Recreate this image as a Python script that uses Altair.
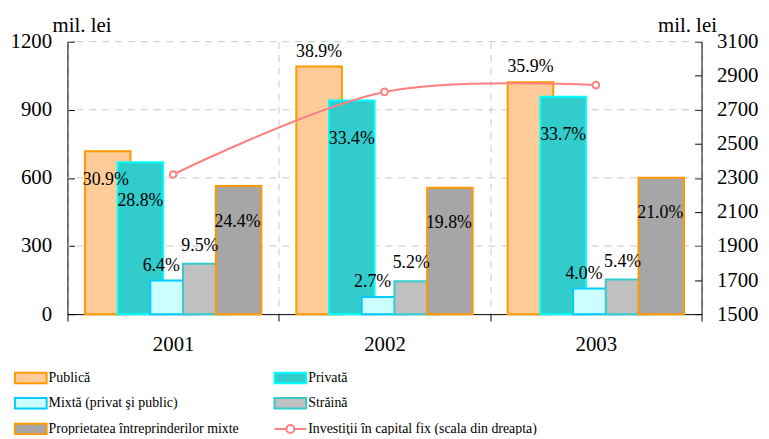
import altair as alt
import pandas as pd

years = ["2001", "2002", "2003"]
series_names = ["Publică", "Privată", "Mixtă (privat şi public)", "Străină",
                "Proprietatea întreprinderilor mixte"]
line_name = "Investiţii în capital fix (scala din dreapta)"

publica = [717, 1091, 1021]
privata = [669, 941, 957]
mixta = [148, 75, 113]
straina = [222, 145, 153]
proprietatea = [564, 557, 601]

publica_pct = ["30.9%", "38.9%", "35.9%"]
privata_pct = ["28.8%", "33.4%", "33.7%"]
mixta_pct = ["6.4%", "2.7%", "4.0%"]
straina_pct = ["9.5%", "5.2%", "5.4%"]
proprietatea_pct = ["24.4%", "19.8%", "21.0%"]

investitii = [2320, 2805, 2845]

left_ticks = [0, 300, 600, 900, 1200]
right_ticks = [1500, 1700, 1900, 2100, 2300, 2500, 2700, 2900, 3100]

# styles
fills = ["#FFCC99", "#33CCCC", "#CCFFFF", "#C0C0C0", "#A6A6A6", "#FFFFFF"]
strokes = ["#FF9900", "#00FFFF", "#00CCFF", "#33CCCC", "#FF9900", "#FF8080"]
rect_path = "M-2,-0.66L2,-0.66L2,0.66L-2,0.66Z"
line_path = ("M-2,0L-0.5,0M0.5,0L2,0"
             "M-0.5,0A0.5,0.5 0 1,0 0.5,0A0.5,0.5 0 1,0 -0.5,0Z")
shapes = [rect_path] * 5 + [line_path]
FONT = "Liberation Serif"
GRID = "#C8C8C8"
DASH = [7, 6]
TICK_DASH = [7, 3000]  # grid drawn as short inward tick from the axis

all_names = series_names + [line_name]

values = [publica, privata, mixta, straina, proprietatea]
pcts = [publica_pct, privata_pct, mixta_pct, straina_pct, proprietatea_pct]
rows = []
for s, vals, pc in zip(series_names, values, pcts):
    for y, v, p in zip(years, vals, pc):
        rows.append({"year": y, "series": s, "value": v, "pct": p})
bars_df = pd.DataFrame(rows)
line_df = pd.DataFrame({"year": years, "invest": investitii,
                        "series": [line_name] * len(years)})
grid_df = pd.DataFrame({"value": left_ticks[1:]})

common_axis = dict(labelFont=FONT, titleFont=FONT, labelColor="black",
                   titleColor="black", domainColor="black", labelFontSize=21,
                   titleFontSize=21, titleFontWeight=400)

xscale = alt.Scale(domain=years, paddingInner=0, paddingOuter=0)
xaxis = alt.Axis(title=None, tickBand="extent", ticks=True, tickSize=7,
                 tickColor="black", grid=True, gridDash=DASH,
                 gridColor=GRID, labelPadding=13, labelAngle=0,
                 **common_axis)
offscale = alt.Scale(domain=series_names, paddingInner=0, paddingOuter=0.732)
lscale = alt.Scale(domain=[0, 1200], nice=False, zero=True)
laxis = alt.Axis(orient="left", values=left_ticks, format="d", grid=True,
                 gridDash=TICK_DASH, gridColor="black", ticks=False,
                 labelPadding=16, title="mil. lei", titleAngle=0,
                 titleAlign="right", titleBaseline="alphabetic",
                 titleX=44, titleY=-10, **common_axis)
rscale = alt.Scale(domain=[1500, 3100], nice=False, zero=False)
raxis = alt.Axis(orient="right", values=right_ticks, format="d", grid=True,
                 gridDash=TICK_DASH, gridColor="black", ticks=False,
                 labelPadding=15, title="mil. lei", titleAngle=0,
                 titleAlign="right", titleBaseline="alphabetic", titleX=15,
                 titleY=-10, **common_axis)

fill_enc = alt.Fill("series:N", title=None,
                    scale=alt.Scale(domain=all_names, range=fills))
stroke_enc = alt.Stroke("series:N", title=None,
                        scale=alt.Scale(domain=all_names, range=strokes))
shape_enc = alt.Shape("series:N", title=None,
                      scale=alt.Scale(domain=all_names, range=shapes))

gridrules = alt.Chart(grid_df).mark_rule(color=GRID, strokeDash=DASH,
                                         strokeWidth=1).encode(
    y=alt.Y("value:Q", scale=lscale, axis=laxis),
)

bars = alt.Chart(bars_df).mark_bar(width=46, strokeWidth=2).encode(
    x=alt.X("year:N", scale=xscale, axis=xaxis),
    xOffset=alt.XOffset("series:N", scale=offscale),
    y=alt.Y("value:Q", scale=lscale, axis=laxis),
    fill=fill_enc,
    stroke=stroke_enc,
)

# label placement (style): (series, filter, dx, dy)
label_style = [
    (series_names[0], "datum.value > 900", 0, -15),
    (series_names[0], "datum.value <= 900", -2, 29),
    (series_names[1], "true", 0, 39),
    (series_names[2], "true", -12, -15),
    (series_names[3], "true", -6, -18),
    (series_names[4], "true", -1, 36),
]
texts = []
for s, cond, dx, dy in label_style:
    t = alt.Chart(bars_df).transform_filter(
        f"datum.series == '{s}' && ({cond})"
    ).mark_text(font=FONT, fontSize=18, dx=dx, dy=dy, baseline="middle",
                align="center", color="black").encode(
        x=alt.X("year:N", scale=xscale, axis=xaxis),
        xOffset=alt.XOffset("series:N", scale=offscale),
        y=alt.Y("value:Q", scale=lscale, axis=laxis),
        text="pct:N",
    )
    texts.append(t)

left = alt.layer(gridrules, bars, *texts)

line = alt.Chart(line_df).mark_line(interpolate="catmull-rom", color="#FF8080",
                                    strokeWidth=2).encode(
    x=alt.X("year:N", scale=xscale, axis=xaxis),
    y=alt.Y("invest:Q", scale=rscale, axis=raxis),
)
pts = alt.Chart(line_df).mark_point(shape="circle", filled=True, fill="white",
                                    stroke="#FF8080", strokeWidth=2,
                                    size=45, opacity=1).encode(
    x=alt.X("year:N", scale=xscale, axis=xaxis),
    y=alt.Y("invest:Q", scale=rscale, axis=raxis),
)
legpts = alt.Chart(line_df).mark_point(filled=True, opacity=0, size=10).encode(
    x=alt.X("year:N", scale=xscale, axis=xaxis),
    y=alt.Y("invest:Q", scale=rscale, axis=raxis),
    fill=fill_enc,
    stroke=stroke_enc,
    shape=shape_enc,
)
right = alt.layer(line, pts, legpts)

chart = alt.layer(left, right).resolve_scale(y="independent").properties(
    width=640, height=275, autosize="none",
    padding={"left": 60, "top": 32, "right": 60, "bottom": 120},
).configure_view(stroke=None).configure_axis(
    labelFont=FONT, titleFont=FONT, labelColor="black", titleColor="black",
    titleFontWeight=400,
).configure_legend(
    orient="none", direction="horizontal", legendX=-46, legendY=330,
    columns=2, symbolSize=256, symbolStrokeWidth=2, symbolOpacity=1,
    labelFont=FONT, labelFontSize=14, labelColor="black", labelOffset=9,
    rowPadding=6, columnPadding=31, padding=0, labelLimit=400,
)

chart.save("out.html", embed_options={"renderer": "svg", "actions": False})
